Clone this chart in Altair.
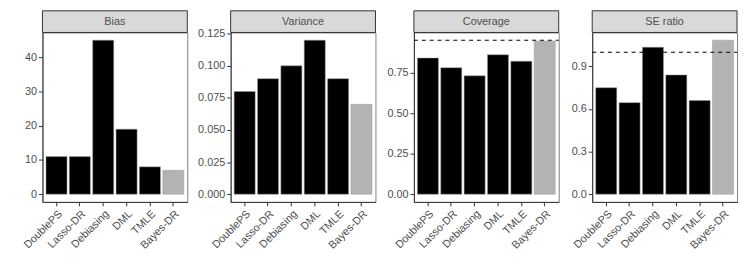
import altair as alt
import pandas as pd

methods = ["DoublePS", "Lasso-DR", "Debiasing", "DML", "TMLE", "Bayes-DR"]
bias = [11, 11, 45, 19, 8, 7]
variance = [0.08, 0.09, 0.10, 0.12, 0.09, 0.07]
coverage = [0.84, 0.78, 0.73, 0.86, 0.82, 0.945]
se_ratio = [0.75, 0.645, 1.035, 0.84, 0.66, 1.085]

panels = ["Bias", "Variance", "Coverage", "SE ratio"]
series = [bias, variance, coverage, se_ratio]
ref_lines = [None, None, 0.95, 1.0]
y_ticks = [[0, 10, 20, 30, 40],
           [0, 0.025, 0.05, 0.075, 0.1, 0.125],
           [0, 0.25, 0.5, 0.75],
           [0, 0.3, 0.6, 0.9]]
y_formats = ["d", ".3f", ".2f", ".1f"]
axis_extent = [34, 42, 37, 31]

W = 147
H = 172
STRIP = 22
FONT = "Liberation Sans"


def panel(i):
    vals = series[i]
    df = pd.DataFrame({"method": methods, "value": vals,
                       "bayes": ["yes" if m == "Bayes-DR" else "no" for m in methods]})
    top = max(vals + ([ref_lines[i]] if ref_lines[i] is not None else []))
    domain = [-0.05 * top, top * 1.05]
    x = alt.X("method:N", sort=methods, title=None,
              scale=alt.Scale(paddingInner=0.1, paddingOuter=0.15),
              axis=alt.Axis(labelAngle=-45, labelAlign="right", labelBaseline="top",
                            labelFontSize=11, labelColor="#4D4D4D", labelFont=FONT,
                            tickColor="#333333", tickSize=4, labelPadding=2,
                            domainColor="#333333"))
    y = alt.Y("value:Q", title=None,
              scale=alt.Scale(domain=domain, nice=False, zero=False),
              axis=alt.Axis(values=y_ticks[i], format=y_formats[i], grid=False,
                            labelFontSize=11, labelColor="#4D4D4D", labelFont=FONT,
                            tickColor="#333333", tickSize=4, labelPadding=2,
                            domainColor="#333333",
                            minExtent=axis_extent[i], maxExtent=axis_extent[i]))
    bars = alt.Chart(df).mark_bar(stroke="#9a9a9a", strokeWidth=0.5).encode(
        x=x, y=y, y2=alt.datum(0),
        color=alt.Color("bayes:N", scale=alt.Scale(domain=["no", "yes"],
                                                  range=["#000000", "#B3B3B3"]),
                        legend=None))
    strip = alt.Chart(alt.Data(values=[{"label": panels[i]}])).mark_rect(
        fill="#D9D9D9", stroke="#333333", strokeWidth=1).encode(
        x=alt.value(0), x2=alt.value(W), y=alt.value(-STRIP), y2=alt.value(0))
    strip_text = alt.Chart(alt.Data(values=[{"label": panels[i]}])).mark_text(
        font=FONT, fontSize=11, fontWeight="normal",
        fill="#4D4D4D", baseline="middle").encode(
        x=alt.value(W / 2), y=alt.value(-STRIP / 2), text="label:N")
    layers = [bars]
    if ref_lines[i] is not None:
        rl = pd.DataFrame({"v": [ref_lines[i]]})
        rule = alt.Chart(rl).mark_rule(color="#000000", strokeWidth=1.1,
                                       strokeDash=[4, 4]).encode(
            x=alt.value(0), x2=alt.value(W), y=alt.Y("v:Q"))
        layers.append(rule)
    layers += [strip, strip_text]
    return alt.layer(*layers).properties(width=W, height=H)


chart = alt.hconcat(*[panel(i) for i in range(4)], spacing=0).resolve_scale(
    y="independent", color="independent"
).properties(padding=0).configure_view(stroke="#7F7F7F", strokeWidth=1)

chart.save("out.html", embed_options={"renderer": "svg", "actions": False})
